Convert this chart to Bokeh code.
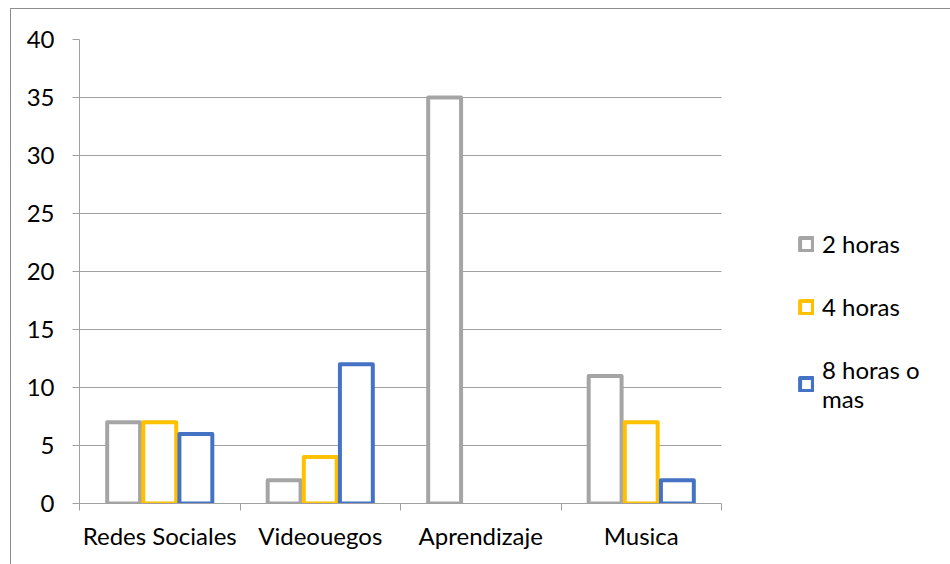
from bokeh.plotting import figure
from bokeh.models import ColumnDataSource, FixedTicker, Legend, LegendItem, BoxAnnotation
from bokeh.embed import file_html
from bokeh.resources import INLINE

categories = ["Redes Sociales", "Videouegos", "Aprendizaje", "Musica"]
series_names = ["2 horas", "4 horas", "8 horas o\nmas"]
values_2h = [7, 2, 35, 11]
values_4h = [7, 4, 0, 7]
values_8h = [6, 12, 0, 2]
colors = ["#A5A5A5", "#FFC000", "#4472C4"]
y_ticks = [0, 5, 10, 15, 20, 25, 30, 35, 40]

FONT = "Lato"
FS = "24px"

# plot area spans 642 px for the 4 categories; frame continues to the right edge for the legend
n_cat = len(categories)
x_end = n_cat * 872 / 642

p = figure(width=940, height=556, x_range=(0, x_end), y_range=(0, 40),
           output_backend="svg", toolbar_location=None,
           min_border_left=68, min_border_right=0, min_border_top=30, min_border_bottom=62)
p.margin = (8, 0, 0, 10)
p.styles = {"border-left": "1px solid #8c8c8c", "border-top": "1px solid #8c8c8c",
            "box-sizing": "border-box"}
p.outline_line_color = None
p.background_fill_color = "white"

bar_w = 0.225
offsets = [-bar_w, 0, bar_w]
renderers = []
for vals, off, col in zip([values_2h, values_4h, values_8h], offsets, colors):
    xs = [i + 0.5 + off for i, v in enumerate(vals) if v != 0]
    tops = [v for v in vals if v != 0]
    src = ColumnDataSource(dict(x=xs, top=tops))
    r = p.vbar(x="x", top="top", bottom=0, width=bar_w - 0.02, source=src,
               fill_color="white", line_color=col, line_width=4, line_join="round")
    renderers.append(r)

# hide gridlines beyond the category area
p.add_layout(BoxAnnotation(left=n_cat, fill_color="white", fill_alpha=1, line_alpha=0, level="glyph"))

# axes
p.yaxis.ticker = FixedTicker(ticks=y_ticks)
p.yaxis.axis_line_color = "#a0a0a0"
p.yaxis.major_tick_line_color = "#a0a0a0"
p.yaxis.major_tick_out = 7
p.yaxis.major_tick_in = 0
p.yaxis.minor_tick_line_color = None
p.yaxis.major_label_standoff = 18
p.yaxis.major_label_text_font = FONT
p.yaxis.major_label_text_font_size = FS
p.yaxis.major_label_text_color = "black"

p.xaxis.ticker = FixedTicker(ticks=[i + 0.5 for i in range(n_cat)], minor_ticks=list(range(n_cat + 1)))
p.xaxis.major_label_overrides = {i + 0.5: c for i, c in enumerate(categories)}
p.xaxis.bounds = (0, n_cat)
p.xaxis.axis_line_color = "#a0a0a0"
p.xaxis.major_tick_line_color = None
p.xaxis.minor_tick_line_color = "#a0a0a0"
p.xaxis.minor_tick_out = 7
p.xaxis.minor_tick_in = 0
p.xaxis.major_label_standoff = 10
p.xaxis.major_label_text_font = FONT
p.xaxis.major_label_text_font_size = FS
p.xaxis.major_label_text_color = "black"

p.xgrid.grid_line_color = None
p.ygrid.ticker = FixedTicker(ticks=y_ticks)
p.ygrid.grid_line_color = "#a0a0a0"
p.ygrid.grid_line_width = 1

legend = Legend(items=[LegendItem(label=n, renderers=[r]) for n, r in zip(series_names, renderers)],
                location=(719, 90), orientation="vertical", padding=0, margin=0,
                spacing=34, glyph_width=16, glyph_height=16, label_standoff=8,
                label_text_font=FONT, label_text_font_size=FS, label_text_color="black",
                border_line_color=None, background_fill_alpha=0)
p.add_layout(legend)

open("out.html", "w").write(file_html(p, INLINE))
